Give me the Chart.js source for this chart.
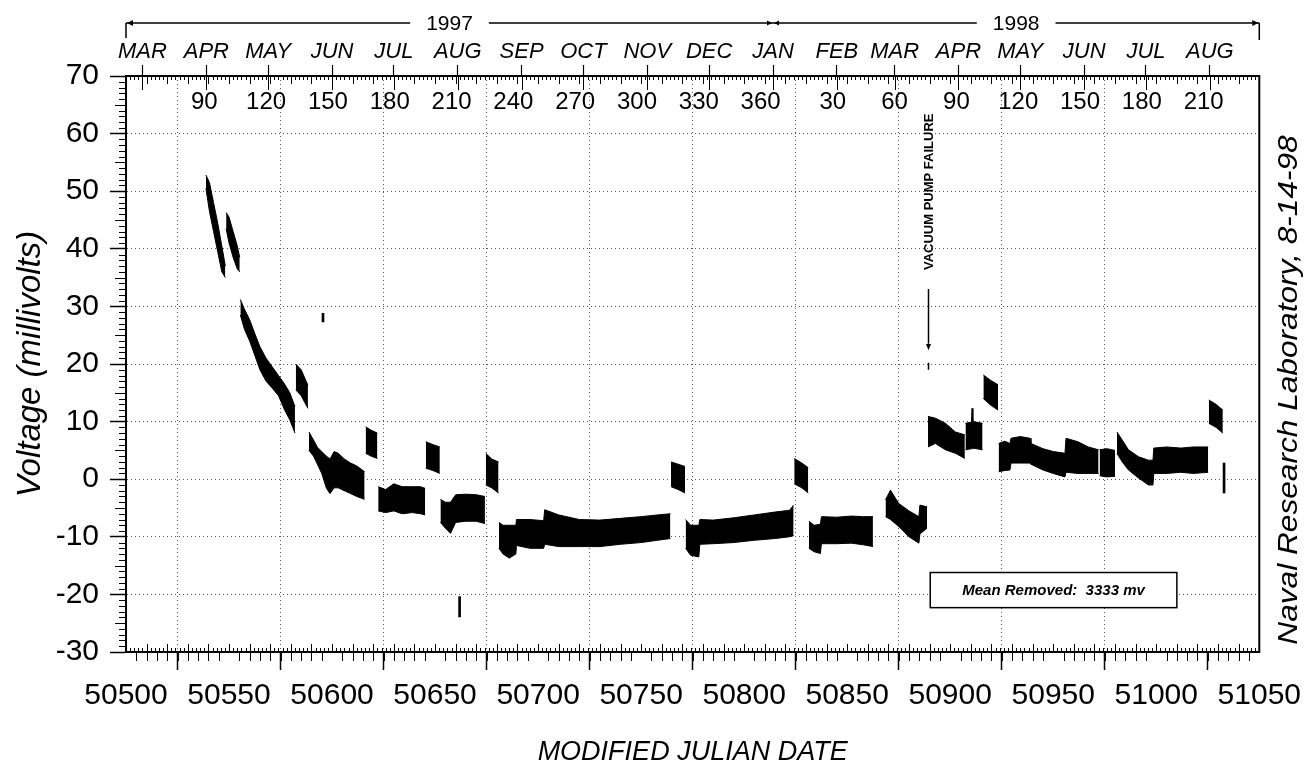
<!DOCTYPE html>
<html>
<head>
<meta charset="utf-8">
<script src="https://cdn.jsdelivr.net/npm/chart.js@4.4.1/dist/chart.umd.min.js"></script>
<style>
  html, body { margin: 0; padding: 0; background: #fff; }
  #wrap { width: 1309px; height: 772px; }
</style>
</head>
<body>
<div id="wrap"><canvas id="plot" width="1309" height="772"></canvas></div>
<script>
// voltage envelope of each run (upper / lower edge of the black band), null = gap between runs
let mjd = [
  50538.8, 50540.5, 50542.5, 50544.5, 50546.5, 50548.2, null,
  50548.6, 50550, 50552, 50554, 50555.2, null,
  50555.5, 50557.5, 50560, 50562.5, 50565, 50568, 50571, 50574, 50577, 50579.5, 50582, null,
  50582.4, 50585, 50588.3, null,
  50588.8, 50591, 50593, 50595, 50597.3, 50599, 50601, 50603, 50606, 50609, 50612, 50615.8, null,
  50616.3, 50619, 50622, null,
  50622.4, 50626, 50630, 50634, 50639, 50643, 50645.2, null,
  50645.5, 50649, 50652.3, null,
  50652.6, 50655, 50657.5, 50660, 50665, 50670, 50674.2, null,
  50674.6, 50677.5, 50680.8, null,
  50681, 50683, 50686, 50689.2, 50689.5, 50696, 50702.7, 50703.2, 50710, 50720, 50730, 50740, 50750, 50758, 50764.2, null,
  50764.5, 50768, 50771.3, null,
  50771.6, 50774, 50778, 50778.5, 50785, 50795, 50805, 50815, 50822, 50824, null,
  50824.3, 50828, 50831.1, null,
  50831.4, 50834, 50837, 50837.5, 50845, 50852, 50858, 50862.5, null,
  50868.6, 50871, 50875, 50880, 50884.8, 50885.3, 50888.8, null,
  50889.2, 50892.8, 50897.7, 50902.5, 50907.1, null,
  50907.4, 50910.3, 50910.6, 50911, 50915.7, null,
  50916.1, 50919.5, 50923.2, null,
  50923.5, 50926.5, 50929, 50929.5, 50934, 50938.8, 50939.2, 50945, 50950, 50955.7, 50956.2, 50962, 50967, 50972, null,
  50972.5, 50976, 50980, null,
  50980.9, 50983.5, 50986.5, 50991.4, 50996.2, 50998.4, 50998.8, 51005, 51012, 51018, 51025.2, null,
  51025.5, 51029, 51032.3
];
let vHigh = [
  52.8, 51.5, 48, 44.5, 40.5, 37, null,
  46.3, 45.5, 43, 40.5, 38.5, null,
  31.2, 29.5, 27.7, 25.3, 23, 21, 19.5, 18, 16.5, 15, 12.6, null,
  20, 19, 16.3, null,
  8.2, 6.8, 5.5, 4.8, 4, 3.5, 4.8, 4.5, 3.5, 2.8, 2.3, 1.3, null,
  9.1, 8.5, 8, null,
  -1.3, -1.8, -0.8, -1.3, -1.3, -1.3, -1.6, null,
  6.5, 6, 5.6, null,
  -3.5, -4, -4, -2.7, -2.6, -2.7, -3, null,
  4.5, 3.5, 3, null,
  -7.5, -8, -8, -8, -7, -7, -7.2, -5.3, -6.2, -7, -7.1, -6.8, -6.5, -6.2, -6, null,
  3, 2.6, 2.2, null,
  -7, -8, -8, -7, -7.1, -6.7, -6.2, -5.7, -5.4, -4.5, null,
  3.6, 2.8, 2, null,
  -7.3, -8, -7.8, -6.5, -6.6, -6.4, -6.5, -6.5, null,
  -3.6, -1.9, -4.2, -5.5, -6.5, -4.5, -4.8, null,
  10.9, 10.6, 9.7, 8.2, 7.7, null,
  9.7, 9.9, 12.3, 10, 9.7, null,
  18.1, 17.2, 16.4, null,
  6.2, 6.6, 6.2, 7.1, 7.4, 7.1, 6.2, 5.3, 4.8, 4.5, 7.1, 6.5, 5.6, 5.1, null,
  5.1, 5.3, 5, null,
  8.2, 6.8, 5.1, 3.9, 3.3, 3.3, 5.4, 5.6, 5.4, 5.6, 5.6, null,
  13.75, 13, 12
];
let vLow = [
  50.5, 46.5, 43, 39.5, 36, 35, null,
  43.5, 41, 38.5, 36.5, 36, null,
  28.5, 26, 24, 21.5, 19, 17, 15.8, 14.5, 12, 10.3, 8, null,
  15.5, 14.5, 12.3, null,
  5, 4, 2.5, 1, -1.6, -2.5, -1.5, -1.5, -2, -2.5, -3, -3.5, null,
  4.5, 4, 3.6, null,
  -5.5, -5.8, -5.5, -6, -5.8, -6, -6.2, null,
  1.9, 1.5, 1, null,
  -7.5, -8.5, -9.4, -7.5, -7.3, -7.3, -7.7, null,
  -1, -1.5, -2.4, null,
  -12, -13, -13.7, -13, -11.5, -12, -12, -11.3, -11.7, -11.7, -11.7, -11.3, -11, -10.6, -10.3, null,
  -1.3, -1.8, -2.4, null,
  -12, -13.2, -13.5, -11.3, -11.2, -11, -10.6, -10.3, -10, -9.8, null,
  -0.8, -1.5, -2.4, null,
  -12, -12.6, -12.9, -11.2, -11.2, -11.1, -11.4, -11.7, null,
  -6.5, -7, -8.2, -10, -11.1, -9.5, -8.5, null,
  5.6, 6.2, 5.1, 4.5, 3.6, null,
  5.1, 5.3, 5.3, 5.4, 5.1, null,
  14, 12.9, 12, null,
  1.3, 1.5, 1.6, 2.8, 2.8, 2.8, 2.6, 1.6, 1, 0.4, 1.2, 1, 1, 1, null,
  0.6, 0.4, 0.5, null,
  4.5, 3, 1.6, 0.2, -1, -1, 1, 1, 1.2, 1, 1.2, null,
  9.7, 9, 8
];

// single isolated readings
let spikeMjd = [50595.6, 50661.9, 51032.9];
let spikeLow = [27.3, -23.9, -2.4];
let spikeHigh = [28.8, -20.4, 2.8];

// axes
let xTickValues = [50500, 50550, 50600, 50650, 50700, 50750, 50800, 50850, 50900, 50950, 51000, 51050];
let yTickValues = [-30, -20, -10, 0, 10, 20, 30, 40, 50, 60, 70];
let monthStart = [50508, 50539, 50569, 50600, 50630, 50661, 50692, 50722, 50753, 50783,
                  50814, 50845, 50873, 50904, 50934, 50965, 50995, 51026];
let monthNames = ['MAR', 'APR', 'MAY', 'JUN', 'JUL', 'AUG', 'SEP', 'OCT', 'NOV', 'DEC',
                  'JAN', 'FEB', 'MAR', 'APR', 'MAY', 'JUN', 'JUL', 'AUG'];
let yearNames = ['1997', '1998'];
let yearStart = [50449, 50814];
let yearSpan = [50500, 50814, 51050];
let doy1997 = [90, 120, 150, 180, 210, 240, 270, 300, 330, 360];
let doy1998 = [30, 60, 90, 120, 150, 180, 210];
let vacuumMjd = 50889.1;

Chart.defaults.font.family = "'Liberation Sans', Arial, sans-serif";
Chart.defaults.color = '#000';

let toPoints = (xs, ys) => xs.map((x, i) => ({ x: x === null ? xs[i - 1] : x, y: ys[i] }));

let gridColor = (lo, hi) => (c) => {
  let v = c.tick ? c.tick.value : null;
  return (v === lo || v === hi) ? 'rgba(0,0,0,0)' : '#555';
};

let arrowHead = (ctx, x, y, dir, s) => {
  ctx.beginPath();
  if (dir === 'right') { ctx.moveTo(x, y); ctx.lineTo(x - s * 2, y - s); ctx.lineTo(x - s * 2, y + s); }
  if (dir === 'left') { ctx.moveTo(x, y); ctx.lineTo(x + s * 2, y - s); ctx.lineTo(x + s * 2, y + s); }
  if (dir === 'down') { ctx.moveTo(x, y); ctx.lineTo(x - s, y - s * 2.5); ctx.lineTo(x + s, y - s * 2.5); }
  ctx.closePath();
  ctx.fill();
};

let decorations = {
  id: 'decorations',
  afterDraw(chart) {
    let ctx = chart.ctx;
    let xs = chart.scales.x, ys = chart.scales.y;
    let a = chart.chartArea;
    let px = v => xs.getPixelForValue(v);
    let py = v => ys.getPixelForValue(v);
    ctx.save();
    ctx.strokeStyle = '#000';
    ctx.fillStyle = '#000';

    // fine ruler ticks
    ctx.lineWidth = 1;
    ctx.beginPath();
    for (let v = -30; v <= 70; v++) {
      if (v % 10 === 0) continue;
      let y = Math.round(py(v)) + 0.5;
      ctx.moveTo(a.left - (v % 5 === 0 ? 11 : 7), y);
      ctx.lineTo(a.left, y);
    }
    for (let d = 50500; d <= 51050; d += 2) {
      let x = Math.round(px(d)) + 0.5;
      let len = d % 10 === 0 ? 8 : 4;
      ctx.moveTo(x, a.bottom); ctx.lineTo(x, a.bottom - len);
      ctx.moveTo(x, a.top); ctx.lineTo(x, a.top + len);
    }
    for (let d = 50505; d < 51050; d += 5) {
      if (d % 50 === 0) continue;
      let x = Math.round(px(d)) + 0.5;
      ctx.moveTo(x, a.bottom); ctx.lineTo(x, a.bottom + 9);
    }
    monthStart.forEach(m => {
      let x = Math.round(px(m)) + 0.5;
      ctx.moveTo(x, a.top); ctx.lineTo(x, a.top + 14);
    });
    ctx.stroke();

    // frame
    ctx.lineWidth = 2;
    ctx.strokeRect(a.left, a.top, a.right - a.left, a.bottom - a.top);

    // day of year labels inside the top edge
    ctx.font = "24px 'Liberation Sans'";
    ctx.textAlign = 'center';
    ctx.textBaseline = 'middle';
    doy1997.forEach(d => ctx.fillText(String(d), px(yearStart[0] + d - 1), a.top + 26));
    doy1998.forEach(d => ctx.fillText(String(d), px(yearStart[1] + d - 1), a.top + 26));

    // year bar
    ctx.font = "21px 'Liberation Sans'";
    ctx.lineWidth = 1.5;
    let yb = 23;
    ctx.beginPath();
    for (let i = 0; i < yearNames.length; i++) {
      let x0 = px(yearSpan[i]), x1 = px(yearSpan[i + 1]);
      let mid = (x0 + x1) / 2;
      let half = ctx.measureText(yearNames[i]).width / 2 + 16;
      ctx.moveTo(x0, yb); ctx.lineTo(mid - half, yb);
      ctx.moveTo(mid + half, yb); ctx.lineTo(x1, yb);
      ctx.fillText(yearNames[i], mid, yb + 1);
    }
    let xs0 = px(yearSpan[0]), xe = px(yearSpan[yearSpan.length - 1]);
    ctx.moveTo(xs0, yb); ctx.lineTo(xs0, yb + 15);
    ctx.moveTo(xe, yb); ctx.lineTo(xe, yb + 17);
    ctx.stroke();
    arrowHead(ctx, xs0 + 1, yb, 'left', 3);
    arrowHead(ctx, xe - 1, yb, 'right', 3);
    arrowHead(ctx, px(yearSpan[1]) - 1, yb, 'right', 2.5);
    arrowHead(ctx, px(yearSpan[1]) + 1, yb, 'left', 2.5);

    // vacuum pump failure marker
    let xv = Math.round(px(vacuumMjd)) + 0.5;
    ctx.save();
    ctx.translate(xv + 1, py(49.9));
    ctx.rotate(-Math.PI / 2);
    ctx.font = "bold 13px 'Liberation Sans'";
    ctx.fillText('VACUUM PUMP FAILURE', 0, 0);
    ctx.restore();
    ctx.lineWidth = 1.5;
    ctx.beginPath();
    ctx.moveTo(xv, py(33)); ctx.lineTo(xv, py(23.5));
    ctx.moveTo(xv, py(20.2)); ctx.lineTo(xv, py(19));
    ctx.stroke();
    arrowHead(ctx, xv, py(22.4), 'down', 2.5);

    // mean removed box
    let bx0 = px(50890.3), bx1 = px(51010), by0 = py(-16.2), by1 = py(-22.3);
    ctx.fillStyle = '#fff';
    ctx.fillRect(bx0, by0, bx1 - bx0, by1 - by0);
    ctx.lineWidth = 1.5;
    ctx.strokeRect(bx0, by0, bx1 - bx0, by1 - by0);
    ctx.fillStyle = '#000';
    ctx.font = "italic bold 15px 'Liberation Sans'";
    ctx.fillText('Mean Removed:  3333 mv', (bx0 + bx1) / 2, (by0 + by1) / 2 + 1);

    // lab stamp on the right
    ctx.save();
    ctx.translate(1289, 390);
    ctx.rotate(-Math.PI / 2);
    ctx.scale(1.13, 1);
    ctx.font = "italic 28px 'Liberation Sans'";
    ctx.fillText('Naval Research Laboratory, 8-14-98', 0, 0);
    ctx.restore();

    ctx.restore();
  }
};

let config = {
  type: 'line',
  data: {
    datasets: [
      {
        label: 'upper', data: toPoints(mjd, vHigh), xAxisID: 'x', yAxisID: 'y',
        borderColor: '#000', borderWidth: 1, backgroundColor: '#000',
        pointRadius: 0, fill: '+1', spanGaps: false, tension: 0
      },
      {
        label: 'lower', data: toPoints(mjd, vLow), xAxisID: 'x', yAxisID: 'y',
        borderColor: '#000', borderWidth: 1, backgroundColor: '#000',
        pointRadius: 0, fill: false, spanGaps: false, tension: 0
      },
      {
        type: 'bar', label: 'spikes', xAxisID: 'x', yAxisID: 'y',
        data: spikeMjd.map((x, i) => ({ x: x, y: [spikeLow[i], spikeHigh[i]] })),
        backgroundColor: '#000', borderWidth: 0, barThickness: 2
      }
    ]
  },
  options: {
    responsive: false,
    animation: false,
    layout: { padding: { left: 0, right: 48, top: 0, bottom: 0 }, autoPadding: false },
    plugins: { legend: { display: false }, tooltip: { enabled: false } },
    scales: {
      x: {
        type: 'linear', position: 'bottom', min: 50500, max: 51050, offset: false,
        afterBuildTicks: s => { s.ticks = xTickValues.map(v => ({ value: v })); },
        ticks: { autoSkip: false, maxRotation: 0, color: '#000', padding: 8,
                 font: { size: 30 }, callback: v => String(v) },
        grid: { color: gridColor(50500, 51050), lineWidth: 1, tickLength: 18, tickColor: '#000', tickWidth: 1.5 },
        border: { display: true, color: '#000', width: 2, dash: [1, 3] },
        title: { display: true, text: 'MODIFIED JULIAN DATE', color: '#000',
                 font: { size: 27, style: 'italic' }, padding: { top: 0, bottom: 3 } },
        afterFit: s => { s.height = 120; }
      },
      xTop: {
        type: 'linear', position: 'top', min: 50500, max: 51050, offset: false,
        afterBuildTicks: s => { s.ticks = monthStart.map(v => ({ value: v })); },
        ticks: { autoSkip: false, maxRotation: 0, color: '#000', padding: 0,
                 font: { size: 22, style: 'italic' }, callback: (v, i) => monthNames[i] },
        grid: { drawOnChartArea: false, tickLength: 11, tickColor: '#000', tickWidth: 1.2 },
        border: { display: true, color: '#000', width: 2 },
        afterFit: s => { s.height = 76; }
      },
      y: {
        type: 'linear', position: 'left', min: -30, max: 70,
        afterBuildTicks: s => { s.ticks = yTickValues.map(v => ({ value: v })); },
        ticks: { color: '#000', padding: 11, font: { size: 30 }, callback: v => String(v) },
        grid: { color: gridColor(-30, 70), lineWidth: 1, tickLength: 16, tickColor: '#000', tickWidth: 1.5 },
        border: { display: true, color: '#000', width: 2, dash: [1, 3] },
        title: { display: true, text: 'Voltage (millivolts)', color: '#000',
                 font: { size: 33, style: 'italic' }, padding: { top: 11, bottom: 0 } },
        afterFit: s => { s.width = 126; }
      }
    }
  },
  plugins: [decorations]
};

let chart = new Chart(document.getElementById('plot'), config);
</script>
</body>
</html>
